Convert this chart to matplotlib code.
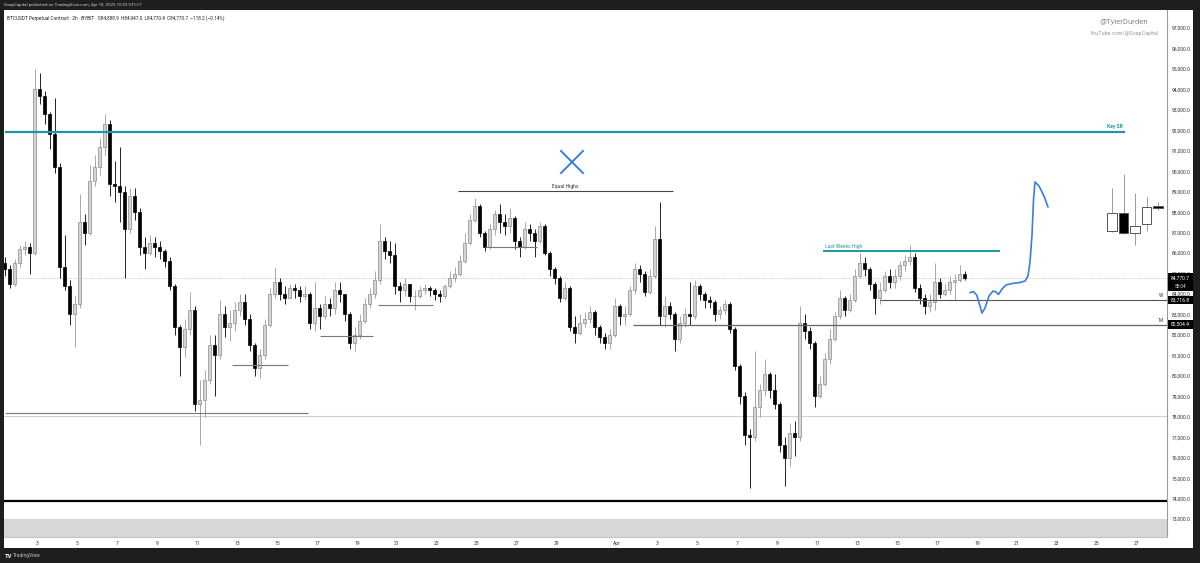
import numpy as np
import pandas as pd
import matplotlib
matplotlib.use('Agg')
import matplotlib.pyplot as plt
import matplotlib.dates as mdates
import matplotlib.transforms as mtransforms
from matplotlib.patches import Rectangle
from matplotlib.ticker import FixedLocator, FuncFormatter, MultipleLocator

plt.rcParams['font.family'] = ['Roboto', 'DejaVu Sans']

# BTCUSDT perp, resampled to 6h candles (values in thousands), Mar 1 06:00 -> Apr 18 (UTC+7)
first_open = 85.5
closes = [85.2, 84.5, 85.5, 86.2, 86.3, 86.0, 94.0, 93.7, 92.8, 91.8,
          90.2, 85.3, 84.4, 83.0, 83.5, 87.5, 87.0, 89.5, 90.2, 91.2,
          92.3, 89.4, 89.3, 89.0, 87.2, 88.8, 88.0, 86.3, 86.0, 86.5,
          86.3, 86.1, 85.6, 84.4, 82.4, 81.4, 82.3, 83.2, 78.6, 78.8,
          79.8, 81.5, 81.0, 83.0, 82.4, 82.6, 83.2, 83.6, 82.8, 81.5,
          80.4, 81.0, 82.5, 84.0, 84.6, 84.0, 83.8, 84.3, 84.2, 83.9,
          84.0, 82.6, 83.3, 82.9, 83.5, 83.3, 84.2, 84.0, 83.0, 81.6,
          82.0, 82.7, 83.5, 84.0, 84.7, 86.6, 86.1, 85.9, 84.4, 84.2,
          84.5, 83.9, 83.9, 84.2, 84.3, 84.2, 84.0, 83.9, 84.4, 84.8,
          85.0, 85.6, 86.5, 87.6, 88.3, 87.0, 86.3, 87.2, 87.9, 87.5,
          87.3, 87.7, 86.6, 86.3, 87.2, 87.0, 86.6, 87.3, 86.0, 85.2,
          84.8, 83.8, 84.3, 82.4, 82.1, 82.6, 82.8, 83.1, 82.4, 81.9,
          81.6, 82.0, 83.4, 82.9, 83.0, 84.2, 85.2, 85.0, 84.1, 84.9,
          86.7, 82.9, 83.4, 83.0, 81.8, 82.6, 83.0, 82.9, 84.4, 84.0,
          83.7, 83.6, 83.0, 83.2, 83.5, 82.3, 80.5, 79.0, 77.1, 77.0,
          78.5, 79.3, 80.1, 79.3, 78.6, 76.6, 76.0, 77.2, 77.0, 82.6,
          82.2, 81.6, 79.0, 79.6, 80.8, 81.8, 82.9, 83.8, 83.2, 83.7,
          84.9, 85.5, 85.2, 84.5, 83.8, 84.2, 84.9, 84.6, 84.9, 85.4,
          85.6, 85.8, 84.3, 83.8, 83.4, 83.6, 84.6, 84.0, 84.2, 84.6,
          84.7, 85.0, 84.7707]
highs = [85.8, 85.4, 85.7, 86.4, 86.6, 86.5, 95.0, 94.8, 93.9, 92.9,
         93.6, 90.4, 86.9, 84.7, 83.9, 88.9, 87.9, 90.3, 90.8, 91.6,
         92.8, 92.5, 90.5, 91.2, 89.3, 89.2, 89.2, 88.2, 86.8, 86.9,
         86.8, 86.6, 86.2, 85.8, 84.5, 82.5, 82.8, 84.1, 83.4, 79.8,
         80.3, 82.0, 82.0, 83.7, 83.4, 83.2, 83.6, 84.0, 84.0, 83.0,
         81.6, 81.3, 82.8, 84.3, 85.3, 84.8, 84.4, 84.5, 84.5, 84.4,
         84.4, 84.1, 84.6, 83.5, 83.9, 83.8, 84.6, 84.6, 84.0, 83.1,
         82.4, 83.0, 83.8, 84.3, 85.1, 87.4, 86.8, 86.6, 86.5, 84.6,
         84.8, 84.5, 84.2, 84.4, 84.5, 84.4, 84.3, 84.2, 84.5, 85.1,
         85.3, 85.9, 87.0, 87.9, 88.7, 88.4, 87.1, 87.4, 88.1, 88.4,
         87.9, 88.2, 87.8, 86.8, 87.5, 87.4, 87.2, 87.5, 87.4, 86.1,
         85.3, 84.9, 84.6, 84.4, 82.9, 83.0, 83.1, 83.4, 83.2, 82.5,
         82.1, 82.3, 83.8, 83.5, 83.4, 84.4, 85.5, 85.4, 85.1, 85.2,
         87.3, 88.5, 83.9, 83.6, 83.1, 82.9, 83.3, 84.6, 84.7, 84.5,
         84.1, 83.9, 83.7, 83.4, 83.7, 83.6, 82.4, 80.6, 79.2, 77.4,
         81.2, 79.6, 80.8, 80.2, 80.1, 78.7, 77.0, 77.7, 77.8, 83.4,
         83.0, 82.4, 81.7, 80.0, 81.1, 82.3, 83.1, 84.2, 83.9, 84.0,
         85.2, 86.0, 85.8, 85.3, 84.6, 84.6, 85.1, 85.2, 85.2, 85.6,
         85.9, 86.4, 86.0, 84.5, 84.0, 84.0, 85.5, 84.8, 84.5, 84.9,
         85.0, 85.4, 85.1]
lows = [84.9, 84.3, 84.4, 85.3, 85.9, 85.0, 85.9, 93.3, 92.3, 91.1,
        89.9, 84.8, 84.2, 82.5, 81.4, 83.3, 86.4, 86.9, 89.3, 89.8,
        90.8, 88.8, 88.5, 87.5, 84.8, 87.0, 87.6, 85.9, 85.2, 85.9,
        85.8, 85.7, 85.3, 84.2, 82.0, 80.0, 80.9, 82.0, 78.3, 76.6,
        78.0, 79.6, 79.0, 80.8, 81.9, 81.7, 82.2, 82.9, 82.5, 81.2,
        80.0, 79.9, 80.8, 82.4, 83.8, 83.7, 83.5, 83.8, 83.8, 83.6,
        83.7, 82.3, 82.2, 82.3, 82.8, 82.9, 83.0, 83.6, 82.7, 81.3,
        81.2, 81.8, 82.6, 83.3, 83.8, 84.5, 85.7, 85.5, 84.0, 83.6,
        83.9, 83.6, 83.2, 83.8, 84.0, 83.9, 83.7, 83.6, 83.8, 84.3,
        84.6, 84.9, 85.5, 86.4, 87.5, 86.8, 86.1, 86.2, 86.9, 87.0,
        86.9, 87.0, 86.2, 85.8, 86.2, 86.6, 85.8, 86.5, 85.9, 84.9,
        84.5, 83.6, 83.7, 82.2, 81.6, 82.0, 82.4, 82.6, 82.0, 81.6,
        81.3, 81.3, 81.9, 82.5, 82.5, 82.9, 84.0, 84.6, 83.9, 84.0,
        84.8, 82.5, 82.4, 82.8, 81.2, 81.6, 82.4, 82.5, 82.8, 83.7,
        83.3, 83.3, 82.7, 82.8, 83.0, 82.1, 80.3, 78.6, 76.6, 74.5,
        76.8, 78.0, 79.0, 78.9, 78.4, 76.3, 74.6, 75.6, 76.1, 76.8,
        81.8, 81.3, 78.5, 78.9, 79.5, 80.6, 81.7, 82.8, 82.9, 83.1,
        83.6, 84.8, 84.9, 84.2, 83.0, 83.5, 84.1, 84.3, 84.3, 84.7,
        85.1, 85.4, 84.1, 83.5, 83.0, 83.1, 83.2, 83.8, 83.9, 84.0,
        83.7, 84.6, 84.7]

# hand drawn projection candles on the right
proj_open = [87.08, 87.96, 86.98, 87.42, 88.28]
proj_close = [87.96, 86.98, 87.32, 88.25, 88.20]
proj_high = [89.18, 89.87, 88.94, 88.74, 88.50]
proj_low = [87.05, 86.95, 86.40, 87.08, 88.10]

# levels (price) and their span in days since Mar 1 00:00
key_sr = 91900
equal_highs = 89030
last_week_high = 86100
w_level = 83716.8
m_level = 82504.4
last_price = 84770.7
small_levels = [(80530, 11.75, 14.55), (81950, 16.15, 18.8),
                (83460, 19.05, 21.8), (86300, 24.4, 27.0)]

# blue projection path (days since Mar 1, price)
path_days = [48.65, 48.815, 48.985, 49.15, 49.25, 49.4, 49.6, 49.8, 49.95,
             50.075, 50.25, 50.45, 50.75, 51.15, 51.4, 51.55, 51.65, 51.75,
             51.825, 51.9, 52.1, 52.35, 52.55]
path_price = [84063, 84121, 83950, 83412, 83070, 83315, 83901, 84146, 84097,
              83975, 84243, 84439, 84512, 84561, 84635, 84879, 85563, 86883,
              88593, 89473, 89278, 88789, 88251]

origin = pd.Timestamp('2025-03-01 00:00')


def day(d):
    return mdates.date2num(origin + pd.to_timedelta(d, unit='D'))


W, H = 1200, 563
fig = plt.figure(figsize=(12, 5.63), dpi=100, facecolor='#1e1e1e')
fig.add_artist(Rectangle((4 / W, (H - 548) / H), (1193 - 4) / W, (548 - 10) / H,
                         transform=fig.transFigure, facecolor='white',
                         edgecolor='none', zorder=0))
ax = fig.add_axes([4 / W, (H - 537) / H, (1167 - 4) / W, (537 - 10) / H])
ax.set_facecolor('white')

times = pd.date_range('2025-03-01 06:00', periods=len(closes), freq='6h')
xs = mdates.date2num(times + pd.Timedelta(hours=3))
c = np.array(closes) * 1000
hi = np.array(highs) * 1000
lo = np.array(lows) * 1000
o = np.concatenate([[first_open * 1000], c[:-1]])
up = c >= o

ax.vlines(xs[up], lo[up], hi[up], color='#9a9a9a', lw=0.6, zorder=3)
ax.vlines(xs[~up], lo[~up], hi[~up], color='black', lw=0.6, zorder=3)
bw = 0.25 * 0.45
ax.bar(xs[up], c[up] - o[up], bottom=o[up], width=bw, color='#d4d4d4',
       edgecolor='#8c8c8c', lw=0.5, zorder=4)
ax.bar(xs[~up], c[~up] - o[~up], bottom=o[~up], width=bw, color='black',
       edgecolor='black', lw=0.5, zorder=4)

# projection candles
pxs = np.array([day(55.75 + 0.575 * i) for i in range(len(proj_open))])
po = np.array(proj_open) * 1000
pc = np.array(proj_close) * 1000
ph = np.array(proj_high) * 1000
pl = np.array(proj_low) * 1000
pup = pc >= po
ax.vlines(pxs, pl, ph, color='#8c8c8c', lw=0.6, zorder=3)
ax.bar(pxs, pc - po, bottom=po, width=0.5,
       color=np.where(pup, 'white', 'black'), edgecolor='#555555', lw=0.7,
       zorder=4)

x0, x1 = day(0.35), day(58.5)
ax.set_xlim(x0, x1)
ax.set_ylim(72123, 97880)

teal = '#1d97a6'
blue = '#3b7be3'
# lines
ax.hlines(key_sr, day(0.4), day(56.4), color=teal, lw=1.6, zorder=5)
ax.text(day(56.3), key_sr + 150, 'Key SR', color=teal, fontsize=3.6,
        fontweight='bold', ha='right', va='bottom')
ax.hlines(equal_highs, day(23.05), day(33.8), color='#444444', lw=0.8, zorder=5)
ax.text((day(23.05) + day(33.8)) / 2, equal_highs + 120, 'Equal Highs',
        color='#333333', fontsize=3.6, ha='center', va='bottom')
ax.hlines(last_week_high, day(41.3), day(50.15), color=teal, lw=1.4, zorder=5)
ax.text(day(41.4), last_week_high + 120, 'Last Weeks High', color=teal,
        fontsize=3.6, ha='left', va='bottom')
ax.axhline(last_price, color='#b5b5b5', lw=0.6, ls=(0, (1, 1.5)), zorder=2)
ax.hlines(w_level, day(44.15), x1, color='#555555', lw=0.8, zorder=5)
ax.hlines(m_level, day(31.8), x1, color='#666666', lw=0.9, zorder=5)
for lvl, a, b in small_levels:
    ax.hlines(lvl, day(a), day(b), color='#777777', lw=0.8, zorder=5)
ax.hlines(78170, day(0.4), day(15.55), color='#777777', lw=0.8, zorder=5)
ax.axhline(78050, color='#cfcfcf', lw=0.8, zorder=2)
ax.axhline(73880, color='black', lw=1.6, zorder=5)
ax.axhspan(72123, 73000, color='#d6d7db', lw=0, zorder=1)

# blue X and projection arrow
xc, yc = 28.75, 90450
ax.plot([day(xc - 0.55), day(xc + 0.55)], [yc + 540, yc - 540], color=blue, lw=1.4, zorder=6)
ax.plot([day(xc - 0.55), day(xc + 0.55)], [yc - 540, yc + 540], color=blue, lw=1.4, zorder=6)
ax.plot([day(d) for d in path_days], path_price, color=blue, lw=1.2,
        solid_capstyle='round', zorder=6)

# axes styling
for s in ['top', 'left']:
    ax.spines[s].set_visible(False)
ax.spines['right'].set_color('#9a9a9a')
ax.spines['right'].set_linewidth(0.8)
ax.spines['bottom'].set_color('#c4c4c4')
ax.spines['bottom'].set_linewidth(0.8)
ax.yaxis.tick_right()
ax.yaxis.set_major_locator(MultipleLocator(1000))
ax.yaxis.set_major_formatter(FuncFormatter(lambda v, p: f'{v:,.1f}'))
ax.tick_params(axis='y', length=0, pad=3.5, labelsize=3.6, labelcolor='#333333')

tick_days = [d - 1 for d in range(3, 30, 2)] + [31] + [30 + d for d in range(3, 28, 2)]
ax.xaxis.set_major_locator(FixedLocator([day(d) for d in tick_days]))


def date_fmt(v, p):
    dt = mdates.num2date(v)
    return 'Apr' if (dt.month == 4 and dt.day == 1) else str(dt.day)


ax.xaxis.set_major_formatter(FuncFormatter(date_fmt))
ax.tick_params(axis='x', length=0, pad=3, labelsize=3.6, labelcolor='#333333')

# price boxes on the axis
bt = mtransforms.blended_transform_factory(ax.transAxes, ax.transData)
bx0, bw_ax = 1.0008, 25 / 1163
ax.add_patch(Rectangle((bx0, 84150), bw_ax, 880, transform=bt, facecolor='black',
                       edgecolor='none', clip_on=False, zorder=10))
ax.text(bx0 + bw_ax / 2, last_price, f'{last_price:,.1f}', transform=bt, color='white',
        fontsize=3.6, ha='center', va='center', clip_on=False, zorder=11)
ax.text(bx0 + bw_ax / 2, last_price - 400, '58:04', transform=bt, color='#dddddd',
        fontsize=3.4, ha='center', va='center', clip_on=False, zorder=11)
for lvl, tag in [(w_level, 'W'), (m_level, 'M')]:
    ax.add_patch(Rectangle((bx0, lvl - 200), bw_ax, 400, transform=bt,
                           facecolor='black', edgecolor='none', clip_on=False, zorder=10))
    ax.text(bx0 + bw_ax / 2, lvl, f'{lvl:,.1f}', transform=bt, color='white',
            fontsize=3.6, ha='center', va='center', clip_on=False, zorder=11)
    ax.text(0.9945, lvl + 90, tag, transform=bt, color='#333333', fontsize=3.4,
            ha='center', va='bottom', zorder=11)

# header / watermark / footer
fig.text(4 / W, 1 - 5 / H, 'SoapCapital published on TradingView.com, Apr 18, 2025 10:03 UTC+7',
         color='#d0d0d0', fontsize=3.2, va='center', ha='left')
fig.text(7 / W, 1 - 18 / H,
         'BTCUSDT Perpetual Contract · 2h · BYBIT   O84,888.9  H84,947.0  L84,770.4  C84,770.7  \u2212118.2 (\u22120.14%)',
         color='#222222', fontsize=3.4, va='center', ha='left')
fig.text(1148 / W, 1 - 22 / H, '@TylerDurden', color='#8a8a8a', fontsize=5.6,
         va='center', ha='right')
fig.text(1159 / W, 1 - 34 / H, 'YouTube.com/@SoapCapital', color='#9a9a9a',
         fontsize=3.9, va='center', ha='right')
fig.text(5 / W, 1 - 556 / H, 'TV', color='white', fontsize=4.2, fontweight='bold',
         va='center', ha='left')
fig.text(13 / W, 1 - 556 / H, 'TradingView', color='#bdbdbd', fontsize=3.6,
         va='center', ha='left')

fig.savefig('out.png', dpi=100, facecolor=fig.get_facecolor())
